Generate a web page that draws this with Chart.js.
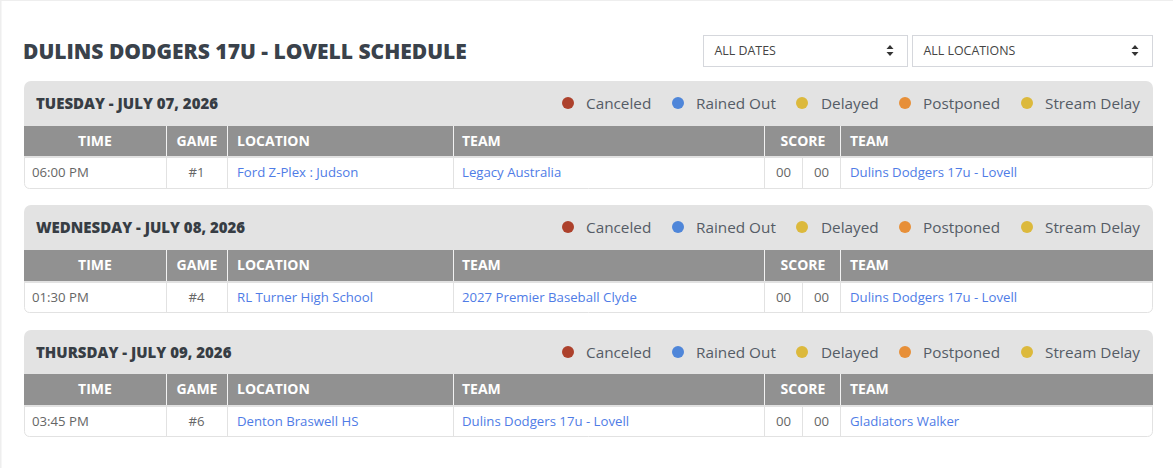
<!DOCTYPE html>
<html><head><meta charset="utf-8">
<script src="https://cdn.jsdelivr.net/npm/chart.js@4"></script>
<style>html,body{margin:0;padding:0;background:#fff;overflow:hidden}canvas{display:block}</style>
</head><body><canvas id="c" width="1173" height="468" style="width:1173px;height:468px"></canvas>
<script>
// ---- data ----
const pageTitle = "DULINS DODGERS 17U - LOVELL SCHEDULE";
const filterLabels = ["ALL DATES", "ALL LOCATIONS"];
const dayTitles = ["TUESDAY - JULY 07, 2026", "WEDNESDAY - JULY 08, 2026", "THURSDAY - JULY 09, 2026"];
const statusLabels = ["Canceled", "Rained Out", "Delayed", "Postponed", "Stream Delay"];
const statusColors = ["#ad412c", "#4f86d9", "#dcb93c", "#e78f38", "#dcb93c"];
const columnHeaders = ["TIME", "GAME", "LOCATION", "TEAM", "SCORE", "TEAM"];
const times = ["06:00 PM", "01:30 PM", "03:45 PM"];
const games = ["#1", "#4", "#6"];
const locations = ["Ford Z-Plex : Judson", "RL Turner High School", "Denton Braswell HS"];
const teamsA = ["Legacy Australia", "2027 Premier Baseball Clyde", "Dulins Dodgers 17u - Lovell"];
const scoresA = ["00", "00", "00"];
const scoresB = ["00", "00", "00"];
const teamsB = ["Dulins Dodgers 17u - Lovell", "Dulins Dodgers 17u - Lovell", "Gladiators Walker"];

// ---- layout ----
const L = {
  left: 24, right: 1153, radius: 7,
  bandTop: [81, 205, 330], bandH: [45, 45, 44], headH: [30, 31, 31], gap: 2, rowH: [30, 29, 29],
  headText: [10.5, 11.5, 11.5],
  cols: [24, 167, 228, 454, 765, 841, 1153], scoreSplit: 803,
  dotX: [568, 678, 802, 905, 1027], labelX: [586, 696, 821, 923, 1045]
};
const FONT = '"Open Sans"';
const C = { title:"#3a424b", head:"#fff", th:"#919191", band:"#e3e3e3", line:"#e2e2e2", body:"#666666", link:"#4f7ce6", legend:"#555c66", day:"#373d44" };

const dotData = [];
const dotColors = [];
L.bandTop.forEach((t,s)=>statusLabels.forEach((_,i)=>{
  dotData.push({x:L.dotX[i], y:t+22}); dotColors.push(statusColors[i]);
}));

const tablePlugin = {
  id:'table',
  beforeDraw(chart){
    const g = chart.ctx, X = chart.scales.x, Y = chart.scales.y;
    const px = v=>X.getPixelForValue(v), py = v=>Y.getPixelForValue(v);
    const rect=(x0,y0,x1,y1,col)=>{g.fillStyle=col;g.fillRect(px(x0),py(y0),px(x1)-px(x0),py(y1)-py(y0));};
    const text=(s,x,y,font,col,align='left',ls='0px')=>{g.font=font;g.fillStyle=col;g.textAlign=align;g.textBaseline='alphabetic';g.letterSpacing=ls;g.fillText(s,px(x),py(y));};
    rect(0,0,1173,468,'#fff');
    // card outline
    rect(0,0,1173,1,'#eeeeee'); rect(0,0,1.5,468,'#eeeeee');
    text(pageTitle,23,59,`800 21px ${FONT}`,C.title);
    // filter boxes
    [[703,908],[912,1153]].forEach(([a,b],i)=>{
      g.strokeStyle='#d5d7dc'; g.lineWidth=1; g.strokeRect(px(a)+.5,py(35)+.5,b-a-1,31);
      text(filterLabels[i],a+11.5,54.5,`12.4px ${FONT}`,'#444');
      const ax=px(b-18);
      g.fillStyle='#333';
      g.beginPath();g.moveTo(ax-3.5,py(49));g.lineTo(ax,py(45));g.lineTo(ax+3.5,py(49));g.closePath();g.fill();
      g.beginPath();g.moveTo(ax-3.5,py(52));g.lineTo(ax,py(56));g.lineTo(ax+3.5,py(52));g.closePath();g.fill();
    });
    L.bandTop.forEach((t,s)=>{
      const hT=t+L.bandH[s], hB=hT+L.headH[s], rT=hB+L.gap, rB=rT+L.rowH[s];
      g.fillStyle=C.band; g.beginPath();
      g.roundRect(px(L.left),py(t),L.right-L.left,L.bandH[s],[L.radius,L.radius,0,0]); g.fill();
      text(dayTitles[s],36,t+28,`800 15px ${FONT}`,C.day);
      statusLabels.forEach((lab,i)=>text(lab,L.labelX[i],t+28,`15.3px ${FONT}`,C.legend));
      rect(L.left,hT,L.right,hB,C.th);
      rect(L.left,hB,L.right,rT,C.line);
      // row outline with rounded lower corners
      g.strokeStyle=C.line; g.lineWidth=1; g.beginPath();
      g.roundRect(px(L.left)+.5,py(rT)-.5,L.right-L.left-1,L.rowH[s]+1,[0,0,5,5]); g.stroke();
      L.cols.slice(1,-1).forEach(cx=>{
        rect(cx-1,hT,cx,hB,'#f2f2f2');
        rect(cx-1,rT,cx,rB,C.line);
      });
      rect(L.scoreSplit-1,rT,L.scoreSplit,rB,C.line);
      const hy=hB-L.headText[s], ry=rT+19;
      const hf=`bold 14px ${FONT}`;
      text(columnHeaders[0],95,hy,hf,C.head,'center');
      text(columnHeaders[1],197,hy,hf,C.head,'center');
      text(columnHeaders[2],237,hy,hf,C.head);
      text(columnHeaders[3],462,hy,hf,C.head);
      text(columnHeaders[4],803,hy,hf,C.head,'center');
      text(columnHeaders[5],850,hy,hf,C.head);
      const bf=`13.2px ${FONT}`;
      text(times[s],32,ry,bf,C.body);
      text(games[s],196.5,ry,bf,C.body,'center');
      text(locations[s],237,ry,bf,C.link);
      text(teamsA[s],462,ry,bf,C.link);
      text(scoresA[s],783.5,ry,bf,C.body,'center');
      text(scoresB[s],821.5,ry,bf,C.body,'center');
      text(teamsB[s],850,ry,bf,C.link);
    });
  }
};

const ctx = document.getElementById('c').getContext('2d',{alpha:false});
new Chart(ctx,{
  type:'scatter',
  data:{datasets:[{label:'status',data:dotData,pointRadius:6,pointHoverRadius:6,borderWidth:0,pointBackgroundColor:dotColors,pointBorderWidth:0}]},
  options:{
    responsive:false,animation:false,devicePixelRatio:1,
    layout:{padding:0,autoPadding:false},
    plugins:{legend:{display:false},tooltip:{enabled:false}},
    scales:{
      x:{type:'linear',display:false,min:0,max:1173},
      y:{type:'linear',display:false,min:0,max:468,reverse:true}
    }
  },
  plugins:[tablePlugin]
});
</script></body></html>
